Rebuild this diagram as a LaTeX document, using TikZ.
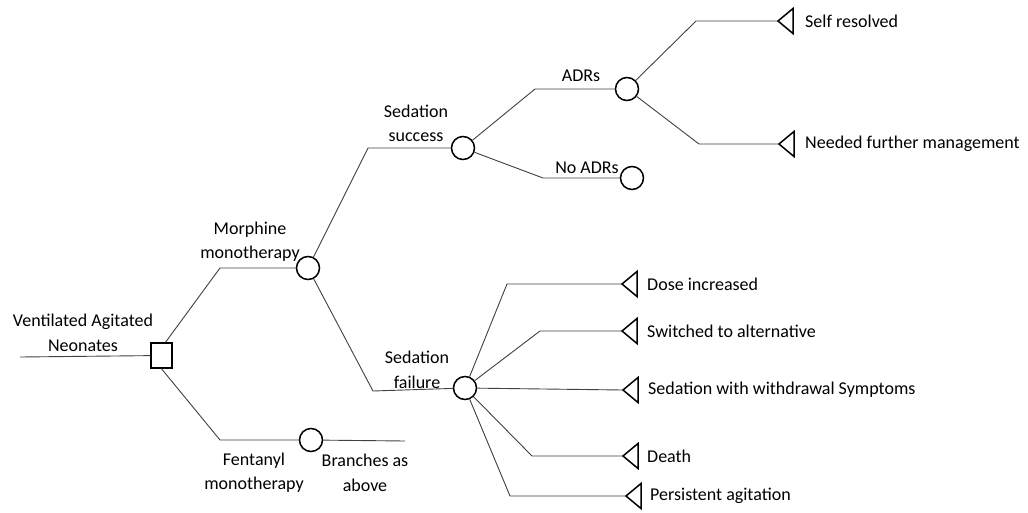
\documentclass[tikz,border=0pt]{standalone}
\usepackage{fontspec}
\setmainfont{Carlito}
\usetikzlibrary{positioning}
\tikzset{
  chance/.style={circle,draw,line width=1.5pt,minimum size=23pt,inner sep=0pt},
  decision/.style={rectangle,draw,line width=1.5pt,minimum width=21pt,minimum height=25pt,inner sep=0pt},
  pics/terminal/.style={code={
    \draw[line width=1.5pt,line join=miter] (0,0) -- (15,-12.5) -- (15,12.5) -- cycle;}},
  branch/.style={line width=0.9pt,black!75},
  lbl/.style={align=center,inner sep=0pt,font=\fontsize{18}{24.5}\selectfont},
  outcome/.style={inner sep=0pt,font=\fontsize{18}{22}\selectfont},
}
\begin{document}
\begin{tikzpicture}[x=1pt,y=-1pt]
\useasboundingbox (0,0) rectangle (1028,512);
% decision and chance nodes
\node[decision] (root) at (161.5,355.5) {};
\node[chance] (mor) at (308,268) {};
\node[chance] (fen) at (311,440) {};
\node[chance] (succ) at (463,148) {};
\node[chance] (fail) at (465,388) {};
\node[chance] (adr) at (627,89) {};
\node[chance] (noadr) at (632,178) {};
\coordinate (in) at (20,357);
\coordinate (rest) at (405,441);
% terminal nodes
\coordinate (selfres) at (778,21);
\coordinate (further) at (779,144);
\coordinate (dose) at (622,284);
\coordinate (switch) at (622,331);
\coordinate (withdr) at (623,390);
\coordinate (death) at (623,456);
\coordinate (persist) at (626,496);
\foreach \t in {selfres,further,dose,switch,withdr,death,persist}
  \pic at (\t) {terminal};
% branches
\draw[branch] (in) -- (root);
\draw[branch] ([xshift=4pt]root.north) -- ([xshift=-88pt]mor.center) -- (mor);
\draw[branch] (root.south) -- ([xshift=-91pt]fen.center) -- (fen);
\draw[branch] (fen) -- (rest);
\draw[branch] (mor) -- ([xshift=-95pt]succ.center) -- (succ);
\draw[branch] (mor) -- ([xshift=-92pt,yshift=-3pt]fail.center) -- (fail);
\draw[branch] (succ) -- ([xshift=-92pt]adr.center) -- (adr);
\draw[branch] (succ) -- ([xshift=-89pt]noadr.center) -- (noadr);
\draw[branch] (adr) -- ([xshift=-82pt]selfres) -- (selfres);
\draw[branch] (adr) -- ([xshift=-80pt]further) -- (further);
\draw[branch] (fail) -- ([xshift=-115pt]dose) -- (dose);
\draw[branch] (fail) -- ([xshift=-82pt]switch) -- (switch);
\draw[branch] (fail) -- (withdr);
\draw[branch] (fail) -- ([xshift=-91pt]death) -- (death);
\draw[branch] (fail) -- ([xshift=-116pt]persist) -- (persist);
% branch labels
\node[lbl] (lroot) at (83,333) {Ventilated Agitated\\Neonates};
\node[lbl] (lmor) at (250,241.5) {Morphine\\monotherapy};
\node[lbl] (lfen) at (254,472.5) {Fentanyl\\monotherapy};
\node[lbl] (lrest) at (365,473) {Branches as\\above};
\node[lbl] (lsucc) at (416,123.5) {Sedation\\success};
\node[lbl] (lfail) at (417,370) {Sedation\\failure};
\node[lbl] (ladr) at (581,76) {ADRs};
\node[lbl] (lnoadr) at (587,168) {No ADRs};
% outcomes
\node[outcome,right=27pt of selfres] {Self resolved};
\node[outcome,right=26pt of further] {Needed further management};
\node[outcome,right=25pt of dose] {Dose increased};
\node[outcome,right=25pt of switch] {Switched to alternative};
\node[outcome,right=25pt of withdr] {Sedation with withdrawal Symptoms};
\node[outcome,right=24pt of death] {Death};
\node[outcome,right=24pt of persist] {Persistent agitation};
\end{tikzpicture}
\end{document}
